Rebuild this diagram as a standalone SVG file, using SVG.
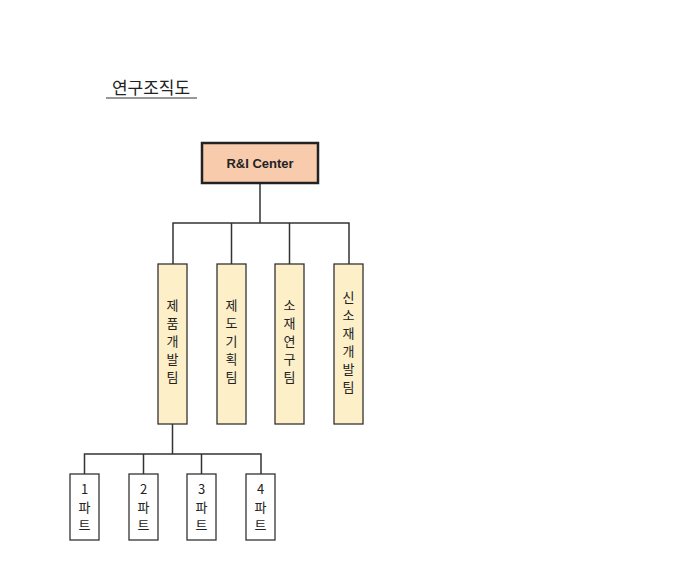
<svg xmlns="http://www.w3.org/2000/svg" width="698" height="586" viewBox="0 0 698 586">
<style>
text{font-family:"Noto Sans CJK KR","Liberation Sans",sans-serif;fill:#222;text-anchor:middle}
.team{fill:#fdf0c8;stroke:#333;stroke-width:1.3}
.part{fill:#fff;stroke:#333;stroke-width:1.3}
.t{font-size:13px}
.c{stroke:#333;stroke-width:1.5;fill:none}
</style>
<rect width="698" height="586" fill="#fff"/>
<text x="151" y="94" style="font-size:17px">연구조직도</text>
<line x1="106" y1="98" x2="197" y2="98" stroke="#333" stroke-width="1.2"/>
<g id="connectors">
<path class="c" d="M260 183V223M173 264V223H349V264M231.5 223V264M289.5 223V264M172.5 424V454M84.5 474V454H261V474M143.5 454V474M201.5 454V474"/>
</g>
<g id="center"><rect x="202" y="143" width="116" height="40" fill="#f8cbad" stroke="#222" stroke-width="2.5"/>
<text x="260" y="168" style="font-size:13px;font-weight:bold;font-family:'Liberation Sans',sans-serif">R&amp;I Center</text></g>
<g id="team1"><rect class="team" x="158" y="264" width="29" height="160"/><text class="t" x="172.5"><tspan x="172.5" y="310">제</tspan><tspan x="172.5" y="328">품</tspan><tspan x="172.5" y="346">개</tspan><tspan x="172.5" y="364">발</tspan><tspan x="172.5" y="382">팀</tspan></text></g>
<g id="team2"><rect class="team" x="217" y="264" width="29" height="160"/><text class="t"><tspan x="231.5" y="310">제</tspan><tspan x="231.5" y="328">도</tspan><tspan x="231.5" y="346">기</tspan><tspan x="231.5" y="364">획</tspan><tspan x="231.5" y="382">팀</tspan></text></g>
<g id="team3"><rect class="team" x="275" y="264" width="29" height="160"/><text class="t"><tspan x="289.5" y="310">소</tspan><tspan x="289.5" y="328">재</tspan><tspan x="289.5" y="346">연</tspan><tspan x="289.5" y="364">구</tspan><tspan x="289.5" y="382">팀</tspan></text></g>
<g id="team4"><rect class="team" x="334" y="264" width="29" height="160"/><text class="t"><tspan x="348.5" y="302">신</tspan><tspan x="348.5" y="320">소</tspan><tspan x="348.5" y="338">재</tspan><tspan x="348.5" y="356">개</tspan><tspan x="348.5" y="374">발</tspan><tspan x="348.5" y="392">팀</tspan></text></g>
<g id="part1"><rect class="part" x="70" y="474" width="29" height="66"/><text class="t"><tspan x="84.5" y="494">1</tspan><tspan x="84.5" y="512">파</tspan><tspan x="84.5" y="530">트</tspan></text></g>
<g id="part2"><rect class="part" x="129" y="474" width="29" height="66"/><text class="t"><tspan x="143.5" y="494">2</tspan><tspan x="143.5" y="512">파</tspan><tspan x="143.5" y="530">트</tspan></text></g>
<g id="part3"><rect class="part" x="187" y="474" width="29" height="66"/><text class="t"><tspan x="201.5" y="494">3</tspan><tspan x="201.5" y="512">파</tspan><tspan x="201.5" y="530">트</tspan></text></g>
<g id="part4"><rect class="part" x="246" y="474" width="29" height="66"/><text class="t"><tspan x="260.5" y="494">4</tspan><tspan x="260.5" y="512">파</tspan><tspan x="260.5" y="530">트</tspan></text></g>
</svg>
